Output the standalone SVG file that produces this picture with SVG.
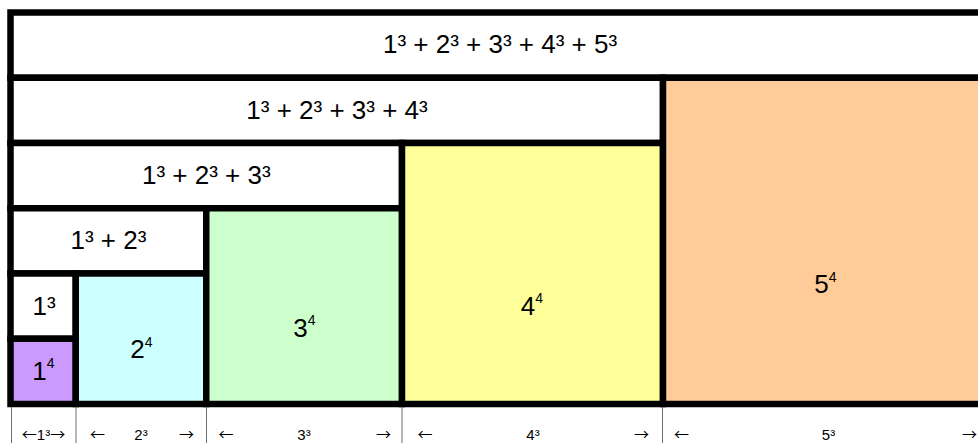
<svg xmlns="http://www.w3.org/2000/svg" width="978" height="443" viewBox="0 0 978 443">
<style>
.box{stroke:#000;stroke-width:6.5}
.lbl{font-family:"Liberation Sans",Arial,sans-serif;font-size:26px;fill:#000;text-anchor:middle}
.sup{font-size:14px}
.ax{font-family:"Liberation Sans",Arial,sans-serif;font-size:15px;fill:#000}
.ar{font-family:"Noto Sans CJK SC","DejaVu Sans",sans-serif;font-size:15px;fill:#000}
.tick{stroke:#707070;stroke-width:1}
</style>
<rect width="978" height="443" fill="#fff"/>
<g id="sum5">
<rect class="box" x="10.5" y="12.5" width="978.75" height="65.25" fill="#fff"/>
<text class="lbl" x="500" y="52.5">1³ + 2³ + 3³ + 4³ + 5³</text>
</g>
<g id="sum4">
<rect class="box" x="10.5" y="77.75" width="652.5" height="65.25" fill="#fff"/>
<text class="lbl" x="337" y="119.3">1³ + 2³ + 3³ + 4³</text>
</g>
<g id="sum3">
<rect class="box" x="10.5" y="143" width="391.5" height="65.25" fill="#fff"/>
<text class="lbl" x="206.25" y="184">1³ + 2³ + 3³</text>
</g>
<g id="sum2">
<rect class="box" x="10.5" y="208.25" width="195.75" height="65.25" fill="#fff"/>
<text class="lbl" x="108.4" y="248.5">1³ + 2³</text>
</g>
<g id="sum1">
<rect class="box" x="10.5" y="273.5" width="65.25" height="65.25" fill="#fff"/>
<text class="lbl" x="44" y="315">1³</text>
</g>
<g id="p1">
<rect class="box" x="10.5" y="338.75" width="65.25" height="65.25" fill="#CC99FF"/>
<text class="lbl" x="43.5" y="380">1<tspan class="sup" dy="-11.6">4</tspan></text>
</g>
<g id="p2">
<rect class="box" x="75.75" y="273.5" width="130.5" height="130.5" fill="#CCFFFF"/>
<text class="lbl" x="141.5" y="358.3">2<tspan class="sup" dy="-11.6">4</tspan></text>
</g>
<g id="p3">
<rect class="box" x="206.25" y="208.25" width="195.75" height="195.75" fill="#CCFFCC"/>
<text class="lbl" x="304.5" y="336.5">3<tspan class="sup" dy="-11.6">4</tspan></text>
</g>
<g id="p4">
<rect class="box" x="402" y="143" width="261" height="261" fill="#FFFF99"/>
<text class="lbl" x="532" y="314.8">4<tspan class="sup" dy="-11.6">4</tspan></text>
</g>
<g id="p5">
<rect class="box" x="663" y="77.75" width="326.25" height="326.25" fill="#FFCC99"/>
<text class="lbl" x="825.5" y="293.3">5<tspan class="sup" dy="-11.6">4</tspan></text>
</g>
<g id="scale">
<line class="tick" x1="11.5" y1="407" x2="11.5" y2="443"/>
<line class="tick" x1="76" y1="407" x2="76" y2="443"/>
<line class="tick" x1="206.5" y1="407" x2="206.5" y2="443"/>
<line class="tick" x1="402" y1="407" x2="402" y2="443"/>
<line class="tick" x1="662.5" y1="407" x2="662.5" y2="443"/>
<text class="ax" x="43.5" y="440" text-anchor="middle"><tspan class="ar" font-size="11">←</tspan>1³<tspan class="ar" font-size="11">→</tspan></text>
<text class="ar" x="90" y="440">←</text>
<text class="ax" x="141" y="440" text-anchor="middle">2³</text>
<text class="ar" x="194" y="440" text-anchor="end">→</text>
<text class="ar" x="218.5" y="440">←</text>
<text class="ax" x="304" y="440" text-anchor="middle">3³</text>
<text class="ar" x="391" y="440" text-anchor="end">→</text>
<text class="ar" x="417.5" y="440">←</text>
<text class="ax" x="533" y="440" text-anchor="middle">4³</text>
<text class="ar" x="649" y="440" text-anchor="end">→</text>
<text class="ar" x="674" y="440">←</text>
<text class="ax" x="828.5" y="440" text-anchor="middle">5³</text>
<text class="ar" x="977" y="440" text-anchor="end">→</text>
</g>
</svg>
